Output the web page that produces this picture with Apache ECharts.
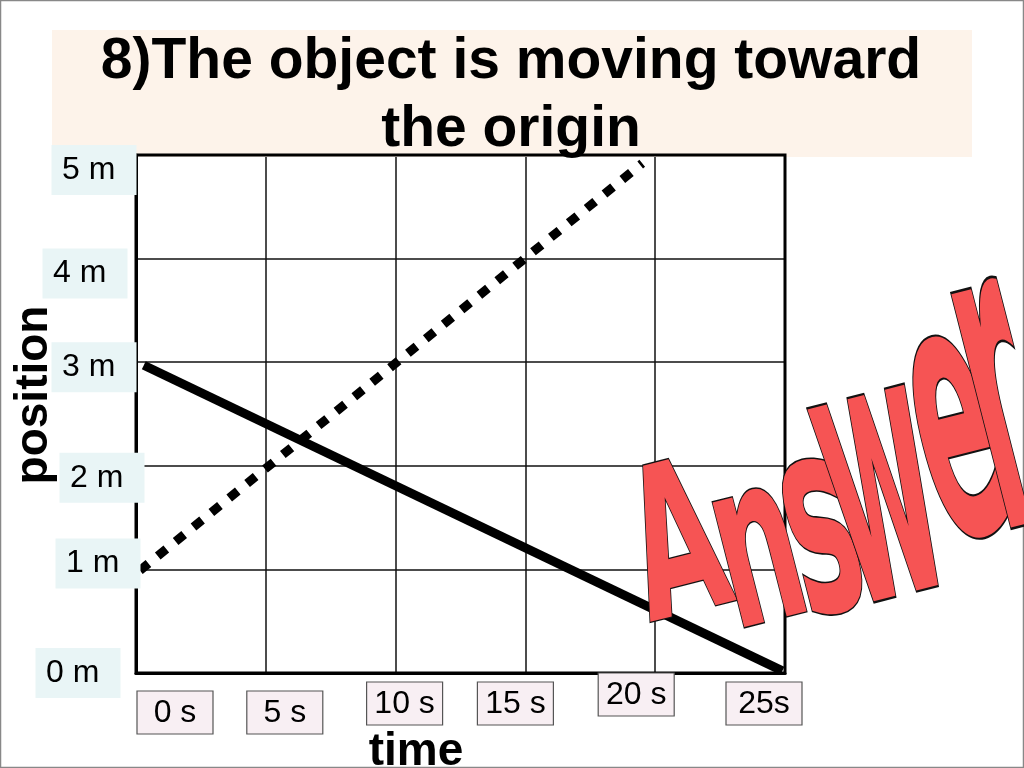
<!DOCTYPE html>
<html>
<head>
<meta charset="utf-8">
<title>position - time</title>
<script src="https://cdn.jsdelivr.net/npm/echarts@6/dist/echarts.min.js"></script>
<style>
  html, body { margin: 0; padding: 0; background: #fff; }
  #main { width: 1024px; height: 768px; }
</style>
</head>
<body>
<div id="main"></div>
<script>
// chart data
var timeTicks = [0, 5, 10, 15, 20, 25];
var xTickLabels = ['0 s', '5 s', '10 s', '15 s', '20 s', '25s'];
var posTicks = [0, 1, 2, 3, 4, 5];
var yTickLabels = ['0 m', '1 m', '2 m', '3 m', '4 m', '5 m'];

// solid line: moving toward the origin
var solidTime = [0.3, 24.9];
var solidPos = [2.97, 0.02];
// dotted line: moving away
var dottedTime = [0.15, 19.5];
var dottedPos = [0.99, 4.92];

var titleLines = ['8)The object is moving toward', 'the origin'];
var answerText = 'Answer';

// label box nudges (pixels from the tick position), slide layout is not regular
var yLabelShift = [[-58, 0], [-38, -6], [-34, 12], [-42, 5], [-51, 15], [-42, 15]];
var xLabelShift = [[39, 18], [19, 18], [9, 9], [-10, 9], [-19, 0], [-21, 9]];

// word art letters: centre x, centre y, vertical stretch
var answerLayout = [
  [680, 558, 2.1], [760, 560, 2.35], [823, 540, 2.75],
  [882, 500, 3.7], [958, 442, 3.6], [1001, 412, 4.4]
];

var chart = echarts.init(document.getElementById('main'));

function pairs(xs, ys){
  var out = [];
  for (var i = 0; i < xs.length; i++) out.push([xs[i], ys[i]]);
  return out;
}

var option = {
  backgroundColor: '#fff',
  animation: false,
  grid: { left: 136, top: 155, width: 649, height: 518, show: true, borderColor: '#000', borderWidth: 3, z: 1 },
  xAxis: {
    type: 'value', min: 0, max: 25, interval: 5,
    axisLine: { lineStyle: { color: '#000', width: 3 } },
    axisTick: { show: false },
    axisLabel: { show: false },
    splitLine: { lineStyle: { color: '#111', width: 1.5 } }
  },
  yAxis: {
    type: 'value', min: 0, max: 5, interval: 1,
    axisLine: { show: true, lineStyle: { color: '#000', width: 3 } },
    axisTick: { show: false },
    axisLabel: { show: false },
    splitLine: { lineStyle: { color: '#111', width: 1.5 } }
  },
  series: [
    {
      type: 'line', data: pairs(solidTime, solidPos), symbol: 'none', z: 3,
      lineStyle: { color: '#000', width: 9, cap: 'butt' }
    },
    {
      type: 'line', data: pairs(dottedTime, dottedPos), symbol: 'none', z: 3,
      lineStyle: { color: '#000', width: 9, type: [11, 12], cap: 'butt' }
    }
  ]
};
chart.setOption(option);

// texts and boxes placed from the axis scales
function buildGraphic(){
  var g = [];
  // frame of the slide
  g.push({ type: 'rect', z: 0, shape: { x: 0.5, y: 0.5, width: 1023, height: 767 },
    style: { fill: 'none', stroke: '#888', lineWidth: 1.5 } });
  // title box
  g.push({ type: 'rect', z: 0, shape: { x: 52, y: 30, width: 920, height: 127 },
    style: { fill: '#fdf3ea' } });
  for (var t = 0; t < titleLines.length; t++) {
    g.push({ type: 'text', z: 50, x: 511, y: 62 + t * 68,
      style: { text: titleLines[t], fill: '#000', font: 'bold 57px "Liberation Sans", Arial, sans-serif',
        align: 'center', verticalAlign: 'middle' } });
  }
  // axis titles
  g.push({ type: 'text', z: 50, x: 34, y: 395, rotation: Math.PI / 2,
    style: { text: 'position', fill: '#000', font: 'bold 46px "Liberation Sans", Arial, sans-serif',
      align: 'center', verticalAlign: 'middle' } });
  g.push({ type: 'text', z: 50, x: 416, y: 752,
    style: { text: 'time', fill: '#000', font: 'bold 46px "Liberation Sans", Arial, sans-serif',
      align: 'center', verticalAlign: 'middle' } });

  // y tick labels
  for (var i = 0; i < posTicks.length; i++) {
    var p = chart.convertToPixel({ gridIndex: 0 }, [0, posTicks[i]]);
    var cx = p[0] + yLabelShift[i][0], cy = p[1] + yLabelShift[i][1];
    g.push({ type: 'rect', z: 20, shape: { x: cx - 42.5, y: cy - 25, width: 85, height: 50 },
      style: { fill: '#e9f5f6' } });
    g.push({ type: 'text', z: 21, x: cx - 32, y: cy,
      style: { text: yTickLabels[i], fill: '#000', font: '32px "Liberation Sans", Arial, sans-serif',
        align: 'left', verticalAlign: 'middle' } });
  }
  // x tick labels
  for (var j = 0; j < timeTicks.length; j++) {
    var q = chart.convertToPixel({ gridIndex: 0 }, [timeTicks[j], 0]);
    var bx = q[0] + xLabelShift[j][0], top = q[1] + xLabelShift[j][1];
    g.push({ type: 'rect', z: 20, shape: { x: bx - 38, y: top, width: 76, height: 43 },
      style: { fill: '#f8eff3', stroke: '#555', lineWidth: 1.2 } });
    g.push({ type: 'text', z: 21, x: bx, y: top + 22,
      style: { text: xTickLabels[j], fill: '#000', font: '32px "Liberation Sans", Arial, sans-serif',
        align: 'center', verticalAlign: 'middle' } });
  }

  // "Answer" word art
  for (var k = 0; k < answerText.length; k++) {
    var a = answerLayout[k];
    g.push({ type: 'text', z: 60, x: a[0], y: a[1], rotation: 0.25, scaleX: 1.3, scaleY: a[2],
      style: { text: answerText[k], fill: '#f65454', stroke: '#111', lineWidth: 1.2,
        font: 'bold 100px "Liberation Sans Narrow", "DejaVu Sans Condensed", sans-serif',
        align: 'center', verticalAlign: 'middle',
        shadowColor: 'rgba(0,0,0,0.45)', shadowBlur: 2, shadowOffsetX: 4, shadowOffsetY: 3 } });
  }
  return g;
}

chart.setOption({ graphic: buildGraphic() });
</script>
</body>
</html>
